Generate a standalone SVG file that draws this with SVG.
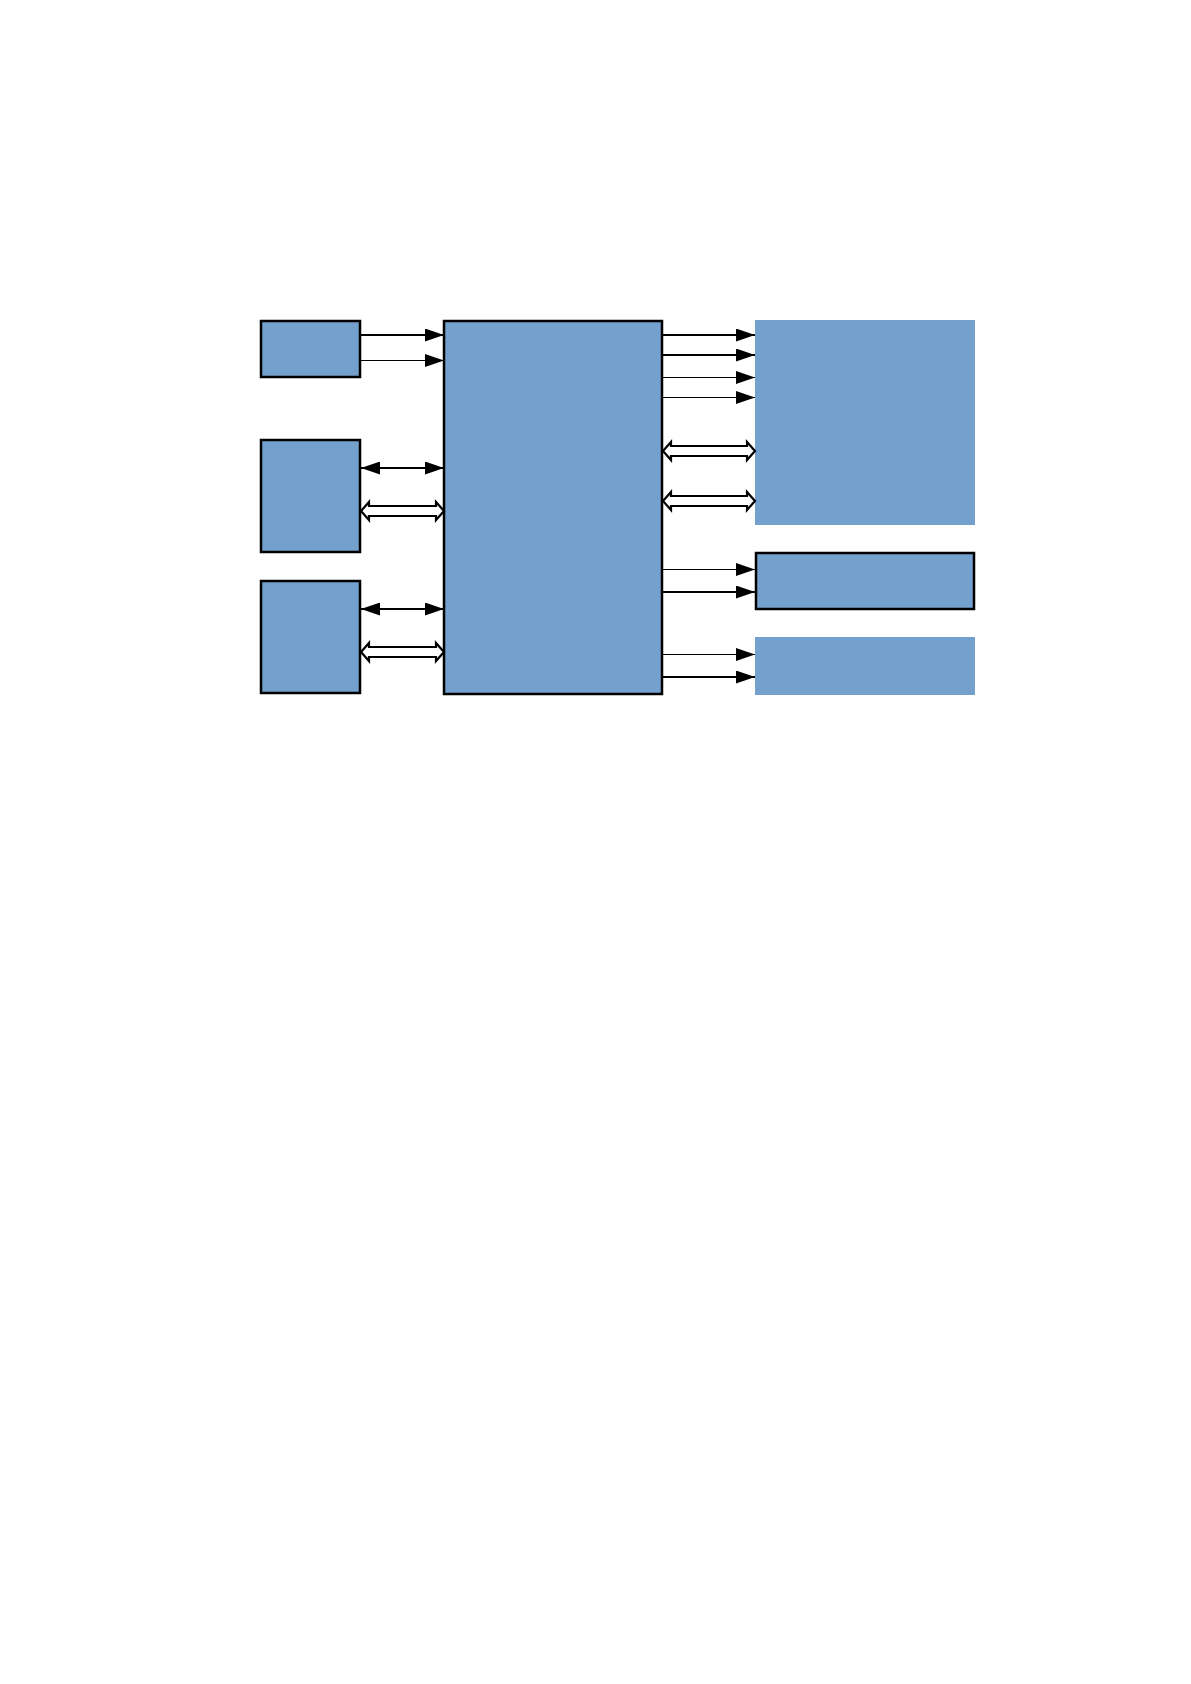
<svg xmlns="http://www.w3.org/2000/svg" width="1191" height="1684" viewBox="0 0 1191 1684">
<style>
.box{fill:#74A0CD}
.bd{stroke:#000;stroke-width:2.5}
.thick{stroke:#000;stroke-width:2.2;fill:none}
.thin{stroke:#000;stroke-width:1.2;fill:none}
.hollow{fill:#fff;stroke:#000;stroke-width:2.2;stroke-linejoin:miter}
</style>
<defs>
<marker id="ah" markerUnits="userSpaceOnUse" markerWidth="19" markerHeight="13" refX="19" refY="6.5" orient="auto">
<path d="M0,0 L19,6.5 L0,13 Z" fill="#000"/>
</marker>
<marker id="as" markerUnits="userSpaceOnUse" markerWidth="19" markerHeight="13" refX="19" refY="6.5" orient="auto-start-reverse">
<path d="M0,0 L19,6.5 L0,13 Z" fill="#000"/>
</marker>
</defs>
<rect width="1191" height="1684" fill="#fff"/>
<g id="nodeA"><rect class="box bd" x="261" y="321" width="99" height="56"/></g>
<g id="nodeB"><rect class="box bd" x="261" y="440" width="99" height="112"/></g>
<g id="nodeC"><rect class="box bd" x="261" y="581" width="99" height="112"/></g>
<g id="main"><rect class="box bd" x="444" y="321" width="218" height="373"/></g>
<g id="right1"><rect class="box" x="755" y="320" width="220" height="205"/></g>
<g id="right2"><rect class="box bd" x="756" y="553" width="218" height="56"/></g>
<g id="right3"><rect class="box" x="755" y="637" width="220" height="58"/></g>
<g id="connectors">
<line class="thick" x1="361" y1="335" x2="444" y2="335" marker-end="url(#ah)"/>
<line class="thin" x1="361" y1="360.5" x2="444" y2="360.5" marker-end="url(#ah)"/>
<line class="thick" x1="361" y1="468" x2="444" y2="468" marker-start="url(#as)" marker-end="url(#as)"/>
<path class="hollow" d="M361,511 L369,502 L369,506 L436,506 L436,502 L444,511 L436,520 L436,516 L369,516 L369,520 Z"/>
<line class="thick" x1="361" y1="609" x2="444" y2="609" marker-start="url(#as)" marker-end="url(#as)"/>
<path class="hollow" d="M361,652 L369,643 L369,647 L436,647 L436,643 L444,652 L436,661 L436,657 L369,657 L369,661 Z"/>
<line class="thick" x1="663" y1="335" x2="755" y2="335" marker-end="url(#ah)"/>
<line class="thick" x1="663" y1="355" x2="755" y2="355" marker-end="url(#ah)"/>
<line class="thin" x1="663" y1="377.5" x2="755" y2="377.5" marker-end="url(#ah)"/>
<line class="thin" x1="663" y1="397.5" x2="755" y2="397.5" marker-end="url(#ah)"/>
<path class="hollow" d="M663,451 L671,442 L671,446 L747,446 L747,442 L755,451 L747,460 L747,456 L671,456 L671,460 Z"/>
<path class="hollow" d="M663,501 L671,492 L671,496 L747,496 L747,492 L755,501 L747,510 L747,506 L671,506 L671,510 Z"/>
<line class="thin" x1="663" y1="569.5" x2="755" y2="569.5" marker-end="url(#ah)"/>
<line class="thick" x1="663" y1="592" x2="755" y2="592" marker-end="url(#ah)"/>
<line class="thin" x1="663" y1="654.5" x2="755" y2="654.5" marker-end="url(#ah)"/>
<line class="thick" x1="663" y1="677" x2="755" y2="677" marker-end="url(#ah)"/>
</g>
</svg>
